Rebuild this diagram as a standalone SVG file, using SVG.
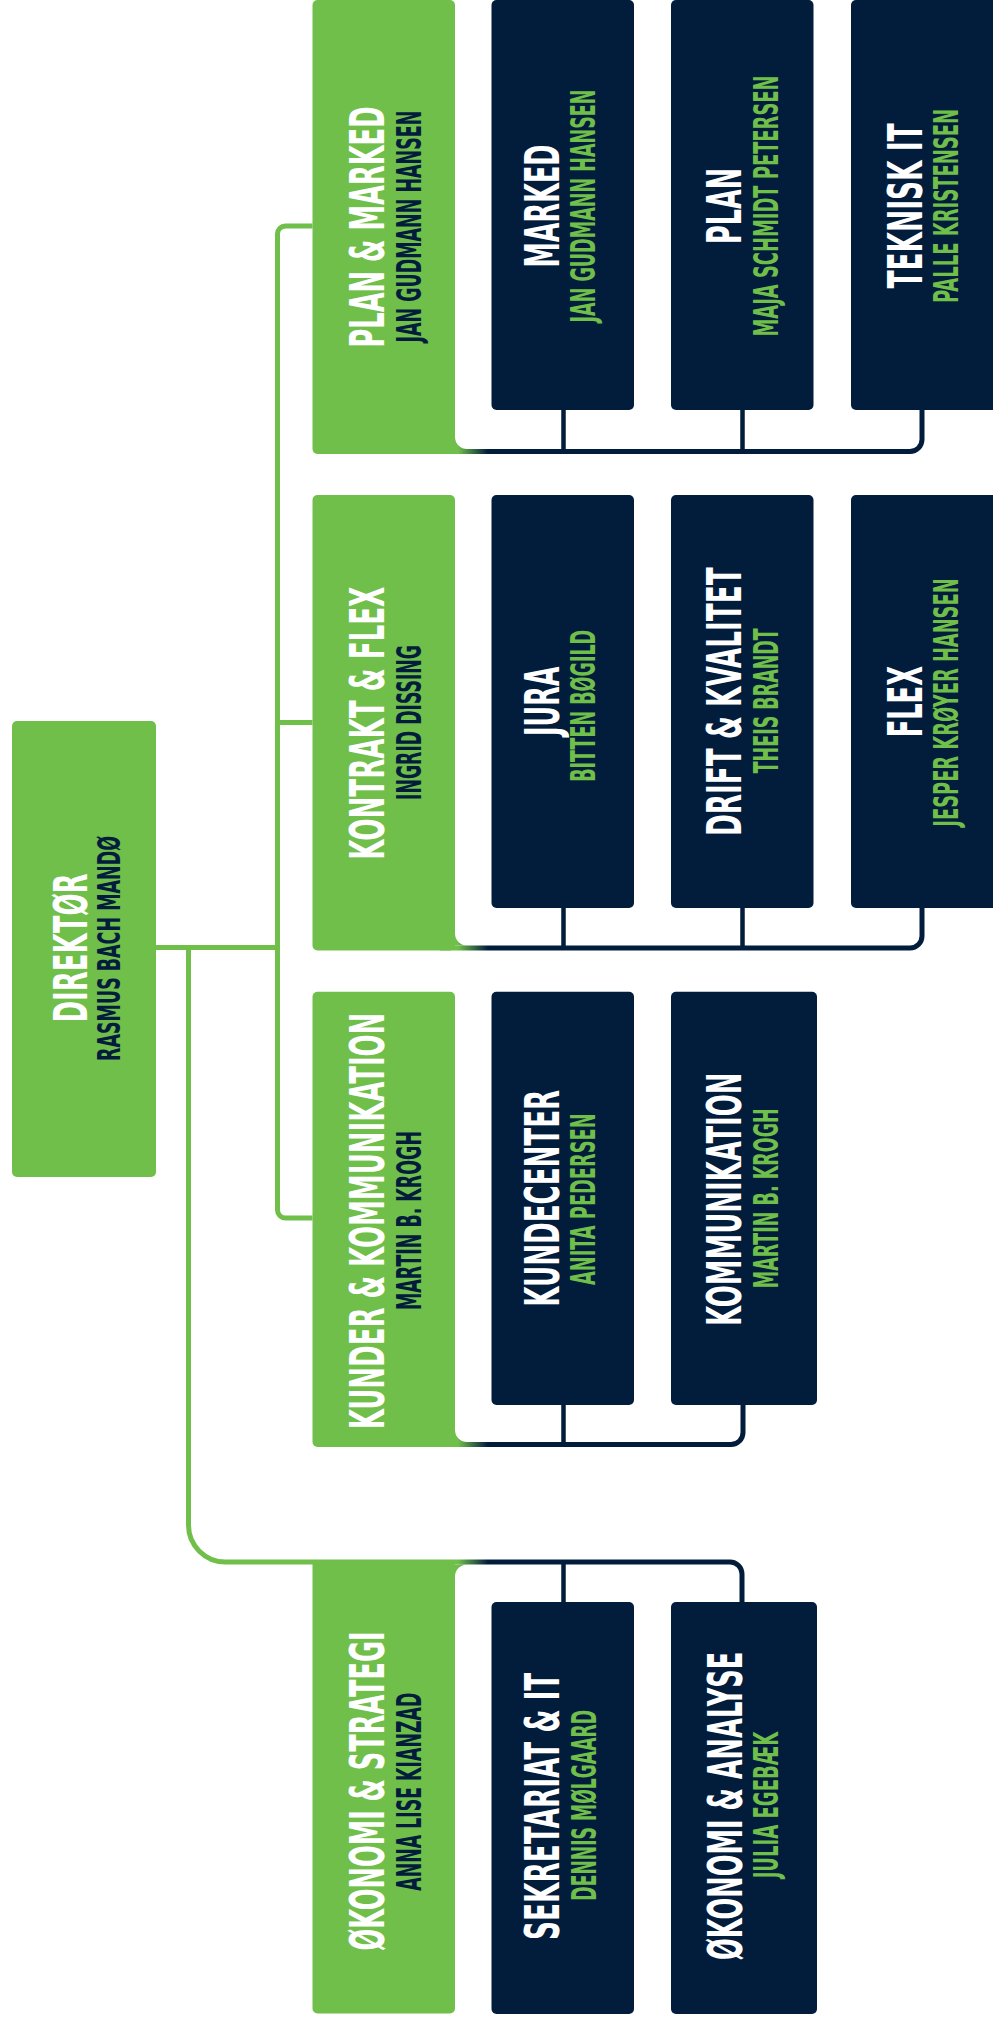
<svg xmlns="http://www.w3.org/2000/svg" width="993" height="2024" viewBox="0 0 993 2024">
<style>
text{font-family:"DejaVu Sans Condensed","DejaVu Sans",sans-serif;font-weight:bold;text-anchor:middle}
.tw{fill:#ffffff;font-size:48px}
.sn{fill:#021C3C;font-size:33px}
.sg{fill:#70BF4B;font-size:33.5px}
.gbox{fill:#70BF4B}
.dbox{fill:#021C3C}
.gl{fill:none;stroke:#70BF4B;stroke-width:5}
.br{fill:none;stroke:url(#g2n);stroke-width:5}
.fil{fill:url(#g2n)}
.stub{fill:none;stroke:#021C3C;stroke-width:4.5}
</style>
<defs>
<linearGradient id="g2n" gradientUnits="userSpaceOnUse" x1="458" y1="0" x2="488" y2="0">
<stop offset="0" stop-color="#70BF4B"/>
<stop offset="1" stop-color="#021C3C"/>
</linearGradient>
</defs>
<rect width="993" height="2024" fill="#ffffff"/>
<g id="connectors">
<path class="gl" d="M156,947.5 H277.5"/>
<path class="gl" d="M312.5,226 H285.5 A8 8 0 0 0 277.5,234 V1210 A8 8 0 0 0 285.5,1218 H312.5"/>
<path class="gl" d="M277.5,722.5 H312.5"/>
<path class="br" d="M188.5,945 V1525 A37 37 0 0 0 225.5,1562 H730 A12 12 0 0 1 742,1574 V1604"/>
<path class="fil" d="M450,1564.5 H467 A12 12 0 0 0 455,1576.5 V1564.5 Z"/>
<path class="stub" d="M563.5,1562 V1604"/>
<path class="br" d="M440,451.5 H910 A12 12 0 0 0 922,439.5 V408"/>
<path class="fil" d="M455,437 A12 12 0 0 0 467,449 H455 Z"/>
<path class="stub" d="M563.5,408 V451.5 M742.5,408 V451.5"/>
<path class="br" d="M440,948 H910 A12 12 0 0 0 922,936 V906"/>
<path class="fil" d="M455,933.5 A12 12 0 0 0 467,945.5 H455 Z"/>
<path class="stub" d="M563.5,906 V948 M742.5,906 V948"/>
<path class="br" d="M440,1444.5 H731 A12 12 0 0 0 743,1432.5 V1403"/>
<path class="fil" d="M455,1430 A12 12 0 0 0 467,1442 H455 Z"/>
<path class="stub" d="M563.5,1403 V1444.5"/>
</g>
<g id="direktor">
<rect class="gbox" x="12" y="721" width="144" height="456" rx="5"/>
<text class="tw" style="font-size:46.5px" transform="translate(87,948) rotate(-90) scale(0.6,1)" textLength="248.3" lengthAdjust="spacingAndGlyphs">DIREKTØR</text>
<text class="sn" style="font-size:31.5px" transform="translate(120,948.5) rotate(-90) scale(0.6,1)" textLength="375" lengthAdjust="spacingAndGlyphs">RASMUS BACH MANDØ</text>
</g>
<g id="plan-marked">
<rect class="gbox" x="312.5" y="0" width="142.5" height="454" rx="5"/>
<text class="tw" transform="translate(384,227) rotate(-90) scale(0.6,1)" textLength="401.7" lengthAdjust="spacingAndGlyphs">PLAN &amp; MARKED</text>
<text class="sn" transform="translate(420.5,226.6) rotate(-90) scale(0.6,1)" textLength="386.7" lengthAdjust="spacingAndGlyphs">JAN GUDMANN HANSEN</text>
</g>
<g id="kontrakt-flex">
<rect class="gbox" x="312.5" y="495" width="142.5" height="455.5" rx="5"/>
<text class="tw" transform="translate(384,723.3) rotate(-90) scale(0.6,1)" textLength="455" lengthAdjust="spacingAndGlyphs">KONTRAKT &amp; FLEX</text>
<text class="sn" transform="translate(420.5,722.5) rotate(-90) scale(0.6,1)" textLength="258.3" lengthAdjust="spacingAndGlyphs">INGRID DISSING</text>
</g>
<g id="kunder-kommunikation">
<rect class="gbox" x="312.5" y="991.7" width="142.5" height="455.3" rx="5"/>
<text class="tw" transform="translate(384,1221) rotate(-90) scale(0.6,1)" textLength="694.5" lengthAdjust="spacingAndGlyphs">KUNDER &amp; KOMMUNIKATION</text>
<text class="sn" transform="translate(420.5,1220.5) rotate(-90) scale(0.6,1)" textLength="298.3" lengthAdjust="spacingAndGlyphs">MARTIN B. KROGH</text>
</g>
<g id="okonomi-strategi">
<rect class="gbox" x="312.5" y="1560" width="142.5" height="453.5" rx="5"/>
<text class="tw" transform="translate(384.4,1791) rotate(-90) scale(0.6,1)" textLength="531.7" lengthAdjust="spacingAndGlyphs">ØKONOMI &amp; STRATEGI</text>
<text class="sn" transform="translate(421,1791.7) rotate(-90) scale(0.6,1)" textLength="330" lengthAdjust="spacingAndGlyphs">ANNA LISE KIANZAD</text>
</g>
<g id="marked">
<rect class="dbox" x="491.5" y="0" width="142.5" height="410" rx="5"/>
<text class="tw" transform="translate(559,206) rotate(-90) scale(0.6,1)" textLength="205" lengthAdjust="spacingAndGlyphs">MARKED</text>
<text class="sg" transform="translate(595,206) rotate(-90) scale(0.6,1)" textLength="388.3" lengthAdjust="spacingAndGlyphs">JAN GUDMANN HANSEN</text>
</g>
<g id="plan">
<rect class="dbox" x="671" y="0" width="142.5" height="410" rx="5"/>
<text class="tw" transform="translate(741,206) rotate(-90) scale(0.6,1)" textLength="126.7" lengthAdjust="spacingAndGlyphs">PLAN</text>
<text class="sg" transform="translate(778,206) rotate(-90) scale(0.6,1)" textLength="435" lengthAdjust="spacingAndGlyphs">MAJA SCHMIDT PETERSEN</text>
</g>
<g id="teknisk-it">
<rect class="dbox" x="851" y="0" width="147" height="410" rx="5"/>
<text class="tw" transform="translate(921.5,206) rotate(-90) scale(0.6,1)" textLength="275" lengthAdjust="spacingAndGlyphs">TEKNISK IT</text>
<text class="sg" transform="translate(958,206) rotate(-90) scale(0.6,1)" textLength="323.3" lengthAdjust="spacingAndGlyphs">PALLE KRISTENSEN</text>
</g>
<g id="jura">
<rect class="dbox" x="491.5" y="495" width="142.5" height="413" rx="5"/>
<text class="tw" transform="translate(559,701.3) rotate(-90) scale(0.6,1)" textLength="115.5" lengthAdjust="spacingAndGlyphs">JURA</text>
<text class="sg" transform="translate(595,705.8) rotate(-90) scale(0.6,1)" textLength="253.3" lengthAdjust="spacingAndGlyphs">BITTEN BØGILD</text>
</g>
<g id="drift-kvalitet">
<rect class="dbox" x="671" y="495" width="142.5" height="413" rx="5"/>
<text class="tw" transform="translate(741,701.7) rotate(-90) scale(0.6,1)" textLength="447.8" lengthAdjust="spacingAndGlyphs">DRIFT &amp; KVALITET</text>
<text class="sg" transform="translate(778,700.8) rotate(-90) scale(0.6,1)" textLength="241.7" lengthAdjust="spacingAndGlyphs">THEIS BRANDT</text>
</g>
<g id="flex">
<rect class="dbox" x="851" y="495" width="147" height="413" rx="5"/>
<text class="tw" transform="translate(921.5,701.7) rotate(-90) scale(0.6,1)" textLength="118.8" lengthAdjust="spacingAndGlyphs">FLEX</text>
<text class="sg" transform="translate(958,702.5) rotate(-90) scale(0.6,1)" textLength="413.8" lengthAdjust="spacingAndGlyphs">JESPER KRØYER HANSEN</text>
</g>
<g id="kundecenter">
<rect class="dbox" x="491.5" y="991.7" width="142.5" height="413.3" rx="5"/>
<text class="tw" transform="translate(559,1198.3) rotate(-90) scale(0.6,1)" textLength="361.2" lengthAdjust="spacingAndGlyphs">KUNDECENTER</text>
<text class="sg" transform="translate(595,1199.2) rotate(-90) scale(0.6,1)" textLength="286.2" lengthAdjust="spacingAndGlyphs">ANITA PEDERSEN</text>
</g>
<g id="kommunikation">
<rect class="dbox" x="671" y="991.7" width="146" height="413.3" rx="5"/>
<text class="tw" transform="translate(741,1199.3) rotate(-90) scale(0.6,1)" textLength="422.2" lengthAdjust="spacingAndGlyphs">KOMMUNIKATION</text>
<text class="sg" transform="translate(778,1198.3) rotate(-90) scale(0.6,1)" textLength="300" lengthAdjust="spacingAndGlyphs">MARTIN B. KROGH</text>
</g>
<g id="sekretariat-it">
<rect class="dbox" x="491.5" y="1602" width="142.5" height="412" rx="5"/>
<text class="tw" transform="translate(558.5,1806.3) rotate(-90) scale(0.6,1)" textLength="445.5" lengthAdjust="spacingAndGlyphs">SEKRETARIAT &amp; IT</text>
<text class="sg" transform="translate(595.5,1805.3) rotate(-90) scale(0.6,1)" textLength="317.8" lengthAdjust="spacingAndGlyphs">DENNIS MØLGAARD</text>
</g>
<g id="okonomi-analyse">
<rect class="dbox" x="671" y="1602" width="146" height="412" rx="5"/>
<text class="tw" transform="translate(741.5,1805.8) rotate(-90) scale(0.6,1)" textLength="513.8" lengthAdjust="spacingAndGlyphs">ØKONOMI &amp; ANALYSE</text>
<text class="sg" transform="translate(777.5,1805) rotate(-90) scale(0.6,1)" textLength="244.5" lengthAdjust="spacingAndGlyphs">JULIA EGEBÆK</text>
</g>
</svg>
